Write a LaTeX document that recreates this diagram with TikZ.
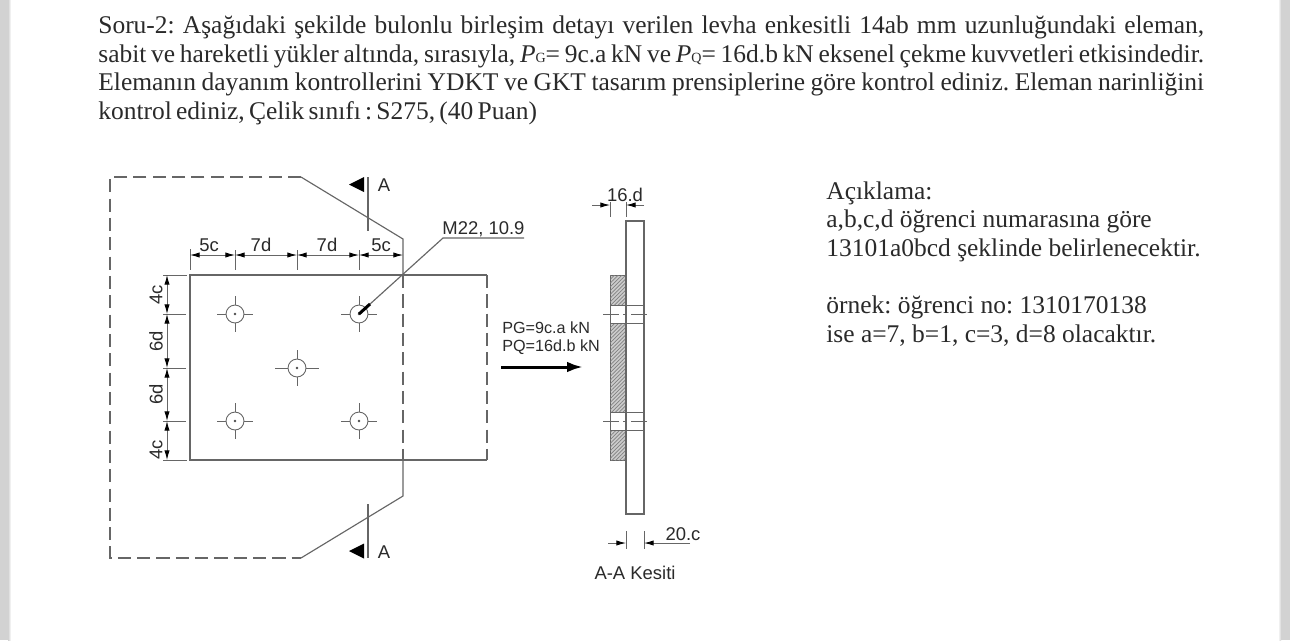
\documentclass[tikz,border=0pt]{standalone}
\usepackage{fontspec}
\setmainfont{Liberation Serif}
\setsansfont{Liberation Sans}
\usetikzlibrary{arrows.meta,patterns.meta}
\definecolor{inkline}{HTML}{666666}
\definecolor{inktext}{HTML}{2A2A2A}
\tikzset{
  part/.style={draw=inkline, line width=0.65pt},
  hidden/.style={part, dash pattern=on 7.5pt off 3.5pt},
  thin part/.style={draw=inkline, line width=0.5pt},
  center/.style={thin part, dash pattern=on 9pt off 2.5pt on 1.5pt off 3pt},
  dim/.style={thin part, {Latex[length=5.5pt,width=3pt,black]}-{Latex[length=5.5pt,width=3pt,black]}},
  hole/.style={circle, thin part, fill=white, minimum size=10.2pt, inner sep=0pt},
  pin/.style={circle, fill=black!70, minimum size=1.5pt, inner sep=0pt},
  label/.style={text=inktext, font=\sffamily\fontsize{10.5}{12}\selectfont, inner sep=0pt},
  note/.style={text=inktext, font=\frenchspacing\fontsize{14.5}{16.3}\selectfont, inner sep=0pt, align=left, anchor=north west},
  hatched/.style={draw=inkline, line width=0.5pt, fill=gray!40,
    postaction={pattern={Lines[angle=45,distance=1.5pt,line width=0.4pt]}, pattern color=black!50}},
}
\begin{document}
\begin{tikzpicture}[x=0.02cm,y=-0.02cm]
    % Page
    \fill[white] (0,0) rectangle (1290,640);
    \fill[gray!35] (0,0) rectangle (8,640);
    \shade[left color=gray!35, right color=white] (8,0) rectangle (11,640);
    \shade[left color=white, right color=gray!35] (1278,0) rectangle (1281,640);
    \fill[gray!35] (1281,0) rectangle (1290,640);
    \useasboundingbox (0,0) rectangle (1290,640);

    % Question text
    \node[note] (question) at (98,15.5) {%
      \makebox[22.12cm][s]{Soru-2: Aşağıdaki şekilde bulonlu birleşim detayı verilen levha enkesitli 14ab mm uzunluğundaki eleman,}\\
      \makebox[22.12cm][s]{sabit ve hareketli yükler altında, sırasıyla, \textit{P}{\footnotesize G}= 9c.a kN ve \textit{P}{\footnotesize Q}= 16d.b kN eksenel çekme kuvvetleri etkisindedir.}\\
      \makebox[22.12cm][s]{Elemanın dayanım kontrollerini YDKT ve GKT tasarım prensiplerine göre kontrol ediniz. Eleman narinliğini}\\
      \makebox[8.76cm][s]{kontrol ediniz, Çelik sınıfı : S275, (40 Puan)}};

    % Explanation text
    \node[note] (explain) at (826,181) {Açıklama:\\
      a,b,c,d öğrenci numarasına göre\\
      13101a0bcd şeklinde belirlenecektir.\\[16.3pt]
      örnek: öğrenci no: 1310170138\\
      ise a=7, b=1, c=3, d=8 olacaktır.};

    % Gusset plate, outline
    \draw[hidden] (301,177) -- (110,177) -- (110,558) -- (301,558);
    \draw[part] (301,177) -- (403,239) -- (403,275);
    \draw[hidden] (403,275) -- (403,460);
    \draw[part] (403,460) -- (403,496) -- (301,558);

    % Member plate
    \draw[part] (487,275) -- (190,275) -- (190,460) -- (487,460);
    \draw[hidden] (487,275) -- (487,460);

    % Section marks
    \draw[part] (368,177) -- (368,231);
    \fill[black] (349,184.5) -- (364,177) -- (364,192) -- cycle;
    \node[label] (markt) at (384,185) {A};
    \draw[part] (368,504) -- (368,558);
    \fill[black] (349,551) -- (364,543.5) -- (364,558.5) -- cycle;
    \node[label] (markb) at (384,552) {A};

    % Hole cross lines
    \draw[thin part] (217,314) -- (253,314) (235,296) -- (235,332);
    \draw[thin part] (341,314) -- (377,314) (359,296) -- (359,332);
    \draw[thin part] (275,368) -- (319,368) (297,350) -- (297,386);
    \draw[thin part] (217,421) -- (253,421) (235,403) -- (235,439);
    \draw[thin part] (341,421) -- (377,421) (359,403) -- (359,439);

    % Holes
    \node[hole] (h1) at (235,314) {};
    \node[hole] (h2) at (359,314) {};
    \node[hole] (h3) at (297,368) {};
    \node[hole] (h4) at (235,421) {};
    \node[hole] (h5) at (359,421) {};
    \node[pin] (p1) at (h1) {};
    \node[pin] (p2) at (h2) {};
    \node[pin] (p3) at (h3) {};
    \node[pin] (p4) at (h4) {};
    \node[pin] (p5) at (h5) {};

    % Bolt leader
    \coordinate (bolt) at (359,314);
    \coordinate (elbow) at (443,238);
    \coordinate (tail) at (524,238);
    \draw[part] (bolt) -- (elbow) -- (tail);
    \draw[black, line width=1.7pt] (bolt) -- (370,304);
    \node[label] (bolttxt) at (483.5,229) {M22, 10.9};

    % Top dimension chain
    \draw[thin part] (190,249) -- (190,270);
    \draw[thin part] (235,250) -- (235,270);
    \draw[thin part] (297,250) -- (297,270);
    \draw[thin part] (359,250) -- (359,270);
    \draw[dim] (190,255) -- (235,255);
    \draw[dim] (235,255) -- (297,255);
    \draw[dim] (297,255) -- (359,255);
    \draw[dim] (359,255) -- (403,255);
    \node[label] (w1) at (209,245) {5c};
    \node[label] (w2) at (261,245) {7d};
    \node[label] (w3) at (327,245) {7d};
    \node[label] (w4) at (381,245) {5c};

    % Left dimension chain
    \draw[thin part] (163,275) -- (187,275);
    \draw[thin part] (163,314) -- (186,314);
    \draw[thin part] (163,368) -- (186,368);
    \draw[thin part] (163,421) -- (186,421);
    \draw[thin part] (163,460) -- (187,460);
    \draw[dim] (167,275) -- (167,314);
    \draw[dim] (167,314) -- (167,368);
    \draw[dim] (167,368) -- (167,421);
    \draw[dim] (167,421) -- (167,460);
    \node[label, rotate=90] (s1) at (156,295) {4c};
    \node[label, rotate=90] (s2) at (156,341) {6d};
    \node[label, rotate=90] (s3) at (156,394) {6d};
    \node[label, rotate=90] (s4) at (156,450) {4c};

    % Load
    \node[label, font=\sffamily\fontsize{9.2}{11}\selectfont, anchor=west] (pg) at (502,328) {PG=9c.a kN};
    \node[label, font=\sffamily\fontsize{9.2}{11}\selectfont, anchor=west] (pq) at (502,347) {PQ=16d.b kN};
    \coordinate (loadstart) at (501,367);
    \coordinate (loadend) at (583,367);
    \draw[black, line width=1.7pt, -{Latex[length=9pt,width=6pt]}] (loadstart) -- (loadend);

    % Section A-A, member
    \draw[hatched] (610,275) rectangle (626,305);
    \draw[hatched] (610,323) rectangle (626,412);
    \draw[hatched] (610,430) rectangle (626,460);
    \draw[part] (626,221) rectangle (644,514);

    % Section A-A, bolt holes
    \draw[thin part] (610,305) -- (644,305) (610,323) -- (644,323);
    \draw[thin part] (610,412) -- (644,412) (610,430) -- (644,430);
    \draw[thin part] (610,305) -- (610,323) (610,412) -- (610,430);
    \draw[center] (603,314) -- (649,314);
    \draw[center] (603,421) -- (649,421);

    % Section A-A, dimensions
    \draw[thin part] (610,202) -- (610,217);
    \draw[thin part] (626,202) -- (626,217);
    \draw[thin part, -{Latex[length=5.5pt,width=3pt,black]}] (592,205) -- (610,205);
    \draw[thin part, -{Latex[length=5.5pt,width=3pt,black]}] (644,205) -- (626,205);
    \node[label] (thick1) at (625,195) {16.d};
    \draw[thin part] (626,531) -- (626,549);
    \draw[thin part] (644,531) -- (644,549);
    \draw[thin part, -{Latex[length=5.5pt,width=3pt,black]}] (608,543) -- (626,543);
    \draw[thin part, -{Latex[length=5.5pt,width=3pt,black]}] (690,543) -- (644,543);
    \node[label] (thick2) at (683,534) {20.c};
    \node[label] (sectitle) at (635,573) {A-A Kesiti};
\end{tikzpicture}
\end{document}
